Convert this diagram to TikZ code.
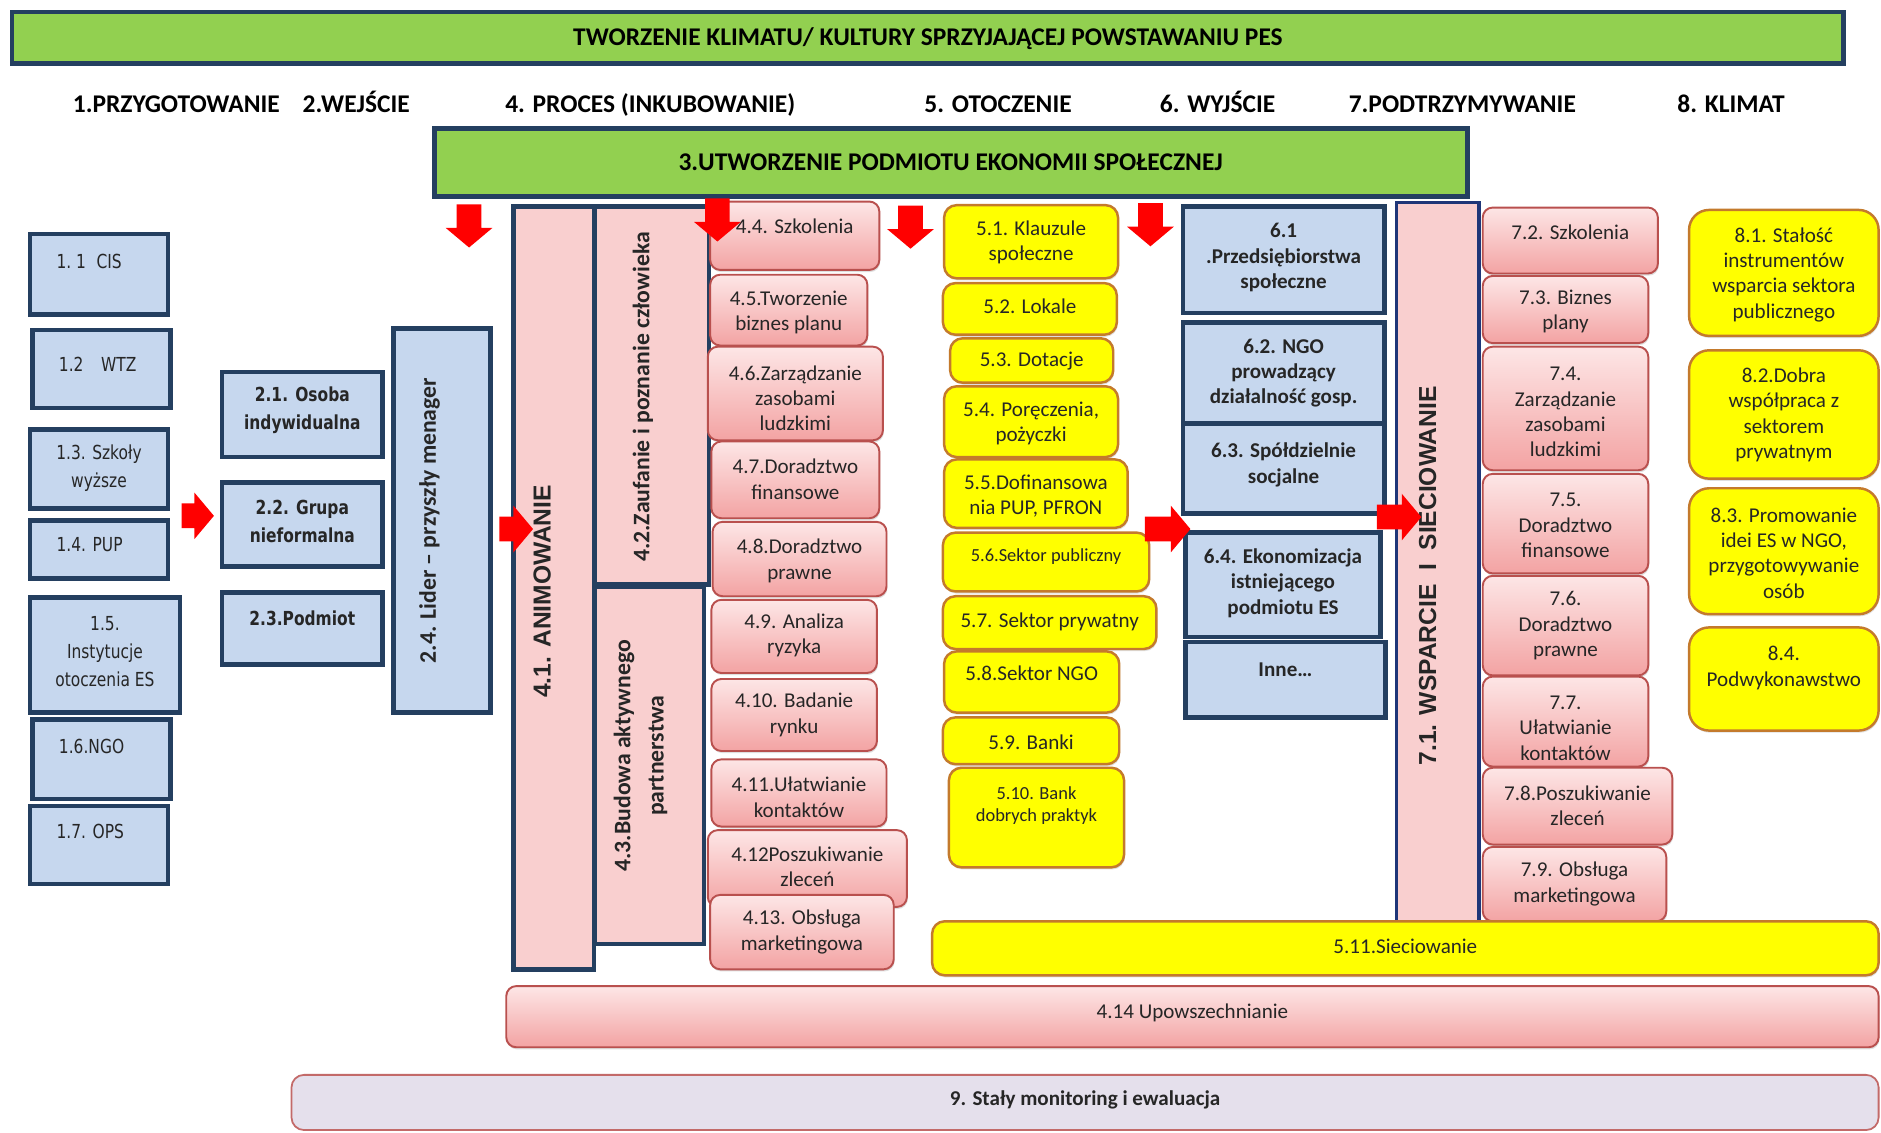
\documentclass[tikz,border=0pt]{standalone}
\usepackage{fontspec}
\setmainfont{Carlito}
\newfontfamily\verdana[FakeStretch=0.8]{DejaVu Sans}
\newfontfamily\arial{Liberation Sans}
\usetikzlibrary{shapes.geometric, shapes.arrows, shadows}
\definecolor{granat}{HTML}{243F60}
\definecolor{zielony}{HTML}{92D050}
\definecolor{niebieski}{HTML}{C6D7EE}
\definecolor{rozjasny}{HTML}{F9CFCF}
\definecolor{rozgora}{HTML}{FDE6E6}
\definecolor{rozdol}{HTML}{F3A3A3}
\definecolor{czerw}{HTML}{B9504E}
\definecolor{zolty}{HTML}{FFFF00}
\definecolor{braz}{HTML}{C47A2C}
\definecolor{lila}{HTML}{E5E0EC}
\newcommand{\unitpx}{0.024cm}
\tikzstyle{cien} = [drop shadow={shadow xshift=0.5pt, shadow yshift=-1.2pt, opacity=0.25}]
\tikzstyle{pasek} = [rectangle, draw = granat, line width=2.8pt, fill = zielony]
\tikzstyle{naglowek} = [font=\fontsize{14.5}{16}\selectfont\bfseries]
\tikzstyle{pasekT} = [naglowek]
\tikzstyle{blok} = [rectangle, draw = granat, line width=2.6pt, fill = niebieski]
\tikzstyle{przyg} = [blok]
\tikzstyle{przygT} = [align=center, text=black!85, font=\verdana\fontsize{11}{16}\selectfont]
\tikzstyle{wejscie} = [blok]
\tikzstyle{wejscieT} = [align=center, text=black!85, font=\verdana\bfseries\fontsize{11}{16}\selectfont]
\tikzstyle{wyjscie} = [blok]
\tikzstyle{wyjscieT} = [align=center, text=black!85, font=\bfseries\fontsize{12}{14.5}\selectfont]
\tikzstyle{proces} = [rectangle, rounded corners=0.2cm, draw = czerw, line width=1.1pt, top color = rozgora, bottom color = rozdol, cien]
\tikzstyle{procesT} = [align=center, text=black!85, font=\fontsize{12}{14.5}\selectfont]
\tikzstyle{otocz} = [rectangle, rounded corners=0.25cm, draw = braz, line width=1.4pt, fill = zolty, cien]
\tikzstyle{otoczT} = [procesT]
\tikzstyle{otoczM} = [otocz]
\tikzstyle{otoczMT} = [procesT, font=\fontsize{10.5}{13}\selectfont]
\tikzstyle{klimat} = [otocz, rounded corners=0.4cm]
\tikzstyle{klimatT} = [procesT]
\tikzstyle{ewal} = [rectangle, rounded corners=0.25cm, draw = czerw!85, line width=1pt, fill = lila]
\tikzstyle{ewalT} = [text=black!85, font=\bfseries\fontsize{12}{14.5}\selectfont]
\tikzstyle{pion} = [rectangle, draw = granat, line width=2.6pt, fill = rozjasny]
\tikzstyle{pionT} = [text=black!85, font=\bfseries\fontsize{13.5}{19}\selectfont]
\tikzstyle{pionA} = [text=black!85, font=\arial\bfseries\fontsize{14}{16}\selectfont]
\tikzstyle{strzalka} = [single arrow, fill = red, draw = none, inner xsep=0pt, inner ysep=0.24cm, single arrow head extend=0.22cm, single arrow tip angle=100]
% pole: styl, nazwa, x1, y1, x2, y2, y tekstu, tekst
\newcommand{\pole}[8]{%
  \node[#1, minimum width={(#5-#3)*\unitpx}, minimum height={(#6-#4)*\unitpx}] (#2) at ({(#3+#5)/2},{(#4+#6)/2}) {};
  \node[#1T] (#2t) at ({(#3+#5)/2},#7) {#8};}
\newcommand{\poleL}[8]{%
  \node[#1, minimum width={(#5-#3)*\unitpx}, minimum height={(#6-#4)*\unitpx}] (#2) at ({(#3+#5)/2},{(#4+#6)/2}) {};
  \node[#1T, anchor=west] (#2t) at ({#3+17},#7) {#8};}
\begin{document}
\begin{tikzpicture}[x=0.024cm, y=-0.024cm]
	\fill[white] (0,0) rectangle (1568,944);
	\useasboundingbox (0,0) rectangle (1568,944);
	% paski i naglowki
	\pole{pasek}{KLI}{10}{10}{1537}{53}{32}{TWORZENIE KLIMATU/ KULTURY SPRZYJAJĄCEJ POWSTAWANIU PES}
	\node[naglowek, anchor=base] (H1) at (147,94) {1.PRZYGOTOWANIE};
	\node[naglowek, anchor=base] (H2) at (297,94) {2.WEJŚCIE};
	\node[naglowek, anchor=base] (H4) at (542,94) {4. PROCES (INKUBOWANIE)};
	\node[naglowek, anchor=base] (H5) at (832,94) {5. OTOCZENIE};
	\node[naglowek, anchor=base] (H6) at (1015,94) {6. WYJŚCIE};
	\node[naglowek, anchor=base] (H7) at (1219,94) {7.PODTRZYMYWANIE};
	\node[naglowek, anchor=base] (H8) at (1443,94) {8. KLIMAT};
	\pole{pasek}{UTW}{362}{107}{1223}{164}{135}{3.UTWORZENIE PODMIOTU EKONOMII SPOŁECZNEJ}
	% 1. przygotowanie
	\poleL{przyg}{C1}{25}{195}{140}{262}{218}{1.\ 1\hspace{6pt}CIS}
	\poleL{przyg}{C2}{27}{275}{142}{340}{304}{1.2\hspace{10pt}WTZ}
	\pole{przyg}{C3}{25}{358}{140}{424}{390}{1.3. Szkoły\\wyższe}
	\poleL{przyg}{C4}{25}{434}{140}{482}{454}{1.4. PUP}
	\pole{przyg}{C5}{25}{498}{150}{594}{543}{1.5.\\Instytucje\\otoczenia ES}
	\poleL{przyg}{C6}{27}{600}{142}{666}{622}{1.6.NGO}
	\poleL{przyg}{C7}{25}{672}{140}{737}{693}{1.7. OPS}
	% 2. wejscie
	\pole{wejscie}{W1}{185}{310}{319}{381}{342}{2.1. Osoba\\indywidualna}
	\pole{wejscie}{W2}{185}{402}{319}{472}{435}{2.2. Grupa\\nieformalna}
	\pole{wejscie}{W3}{185}{494}{319}{554}{515}{2.3.Podmiot}
	\node[blok, minimum width=81*\unitpx, minimum height=320*\unitpx] (LID) at (368.5,434) {};
	\node[pionT, rotate=90] (LIDt) at (358,434) {2.4. Lider – przyszły menager};
	% 4. proces
	\node[pion, minimum width=67*\unitpx, minimum height=636*\unitpx] (ANIM) at (461.5,490) {};
	\node[pionA, rotate=90] (ANIMt) at (452,493) {4.1. ANIMOWANIE};
	\node[pion, minimum width=95*\unitpx, minimum height=315*\unitpx] (ZAUF) at (543.5,329.5) {};
	\node[pionT, rotate=90] (ZAUFt) at (536,331) {4.2.Zaufanie i poznanie człowieka};
	\node[pion, minimum width=91*\unitpx, minimum height=298*\unitpx] (PART) at (541.5,638) {};
	\node[pionT, rotate=90, align=center] (PARTt) at (534,630) {4.3.Budowa aktywnego\\partnerstwa};
	\pole{proces}{P44}{592}{168}{733}{225}{189}{4.4. Szkolenia}
	\pole{proces}{P45}{592}{229}{723}{288}{260.5}{4.5.Tworzenie\\biznes planu}
	\pole{proces}{P46}{590}{289}{736}{367}{332}{4.6.Zarządzanie\\zasobami\\ludzkimi}
	\pole{proces}{P47}{593}{368}{733}{432}{399.5}{4.7.Doradztwo\\finansowe}
	\pole{proces}{P48}{594}{435}{739}{497}{467.5}{4.8.Doradztwo\\prawne}
	\pole{proces}{P49}{593}{500}{731}{561}{529.5}{4.9. Analiza\\ryzyka}
	\pole{proces}{P410}{593}{566}{731}{626}{596}{4.10. Badanie\\rynku}
	\pole{proces}{P411}{593}{633}{739}{689}{664.5}{4.11.Ułatwianie\\kontaktów}
	\pole{proces}{P412}{590}{692}{756}{756}{722.5}{4.12Poszukiwanie\\zleceń}
	\pole{proces}{P413}{592}{746}{745}{808}{777}{4.13. Obsługa\\marketingowa}
	% 7. podtrzymywanie
	\node[pion, line width=2pt, draw = granat!85!blue, minimum width=69*\unitpx, minimum height=601*\unitpx] (WSP) at (1198.5,469.5) {};
	\node[pionA, rotate=90] (WSPt) at (1190,480) {7.1. WSPARCIE\ \ I\ \ SIECIOWANIE};
	\pole{proces}{S72}{1236}{173}{1382}{228}{194}{7.2. Szkolenia}
	\pole{proces}{S73}{1236}{230}{1374}{286}{259.5}{7.3. Biznes\\plany}
	\pole{proces}{S74}{1236}{289}{1374}{392}{343.5}{7.4.\\Zarządzanie\\zasobami\\ludzkimi}
	\pole{proces}{S75}{1236}{395}{1374}{478}{438}{7.5.\\Doradztwo\\finansowe}
	\pole{proces}{S76}{1236}{480}{1374}{563}{521.5}{7.6.\\Doradztwo\\prawne}
	\pole{proces}{S77}{1236}{564}{1374}{639}{607}{7.7.\\Ułatwianie\\kontaktów}
	\pole{proces}{S78}{1236}{640}{1394}{704}{671.5}{7.8.Poszukiwanie\\zleceń}
	\pole{proces}{S79}{1236}{706}{1389}{768}{737}{7.9. Obsługa\\marketingowa}
	% 5. otoczenie
	\pole{otocz}{O51}{787}{171}{932}{232}{202}{5.1. Klauzule\\społeczne}
	\pole{otocz}{O52}{786}{236}{931}{279}{255}{5.2. Lokale}
	\pole{otocz}{O53}{792}{282}{928}{319}{301}{5.3. Dotacje}
	\pole{otocz}{O54}{787}{322}{932}{381}{353}{5.4. Poręczenia,\\pożyczki}
	\pole{otocz}{O55}{787}{383}{940}{440}{413.5}{5.5.Dofinansowa\\nia PUP, PFRON}
	\pole{otoczM}{O56}{786}{444}{958}{493}{464}{5.6.Sektor publiczny}
	\pole{otocz}{O57}{786}{497}{964}{541}{518}{5.7. Sektor prywatny}
	\pole{otocz}{O58}{787}{543}{933}{594}{561}{5.8.Sektor NGO}
	\pole{otocz}{O59}{786}{598}{933}{637}{619}{5.9. Banki}
	\pole{otoczM}{O510}{791}{640}{937}{723}{671.5}{5.10. Bank\\dobrych praktyk}
	% 6. wyjscie
	\pole{wyjscie}{Y61}{986}{172}{1154}{261}{215}{6.1\\.Przedsiębiorstwa\\społeczne}
	\pole{wyjscie}{Y62}{986}{269}{1154}{353}{311}{6.2. NGO\\prowadzący\\działalność gosp.}
	\pole{wyjscie}{Y63}{986}{353}{1154}{428}{387.5}{6.3. Spółdzielnie\\socjalne}
	\pole{wyjscie}{Y64}{988}{444}{1151}{531}{486}{6.4. Ekonomizacja\\istniejącego\\podmiotu ES}
	\pole{wyjscie}{Y65}{988}{535}{1155}{598}{558}{Inne…}
	% 8. klimat
	\pole{klimat}{K81}{1408}{175}{1566}{280}{229}{8.1. Stałość\\instrumentów\\wsparcia sektora\\publicznego}
	\pole{klimat}{K82}{1408}{292}{1566}{399}{346}{8.2.Dobra\\współpraca z\\sektorem\\prywatnym}
	\pole{klimat}{K83}{1408}{407}{1566}{512}{461}{8.3. Promowanie\\idei ES w NGO,\\przygotowywanie\\osób}
	\pole{klimat}{K84}{1408}{523}{1566}{609}{557}{8.4.\\Podwykonawstwo}
	% paski dolne
	\pole{otocz}{O511}{777}{768}{1566}{813}{789}{5.11.Sieciowanie}
	\pole{proces}{P414}{422}{822}{1566}{873}{844}{4.14 Upowszechnianie}
	\pole{ewal}{MON}{243}{896}{1566}{942}{917}{9. Stały monitoring i ewaluacja}
	% strzalki
	\node[strzalka, rotate=-90, minimum height=36*\unitpx] (D1) at (391,184) {};
	\node[strzalka, rotate=-90, minimum height=36*\unitpx] (D2) at (598,179) {};
	\node[strzalka, rotate=-90, minimum height=36*\unitpx] (D3) at (759,185) {};
	\node[strzalka, rotate=-90, minimum height=36*\unitpx] (D4) at (959,183) {};
	\node[strzalka, minimum height=27*\unitpx] (R1) at (160.5,430) {};
	\node[strzalka, minimum height=28*\unitpx] (R2) at (426,441) {};
	\node[strzalka, minimum height=38*\unitpx] (R3) at (969,441) {};
	\node[strzalka, minimum height=37*\unitpx] (R4) at (1162,431) {};
\end{tikzpicture}
\end{document}
